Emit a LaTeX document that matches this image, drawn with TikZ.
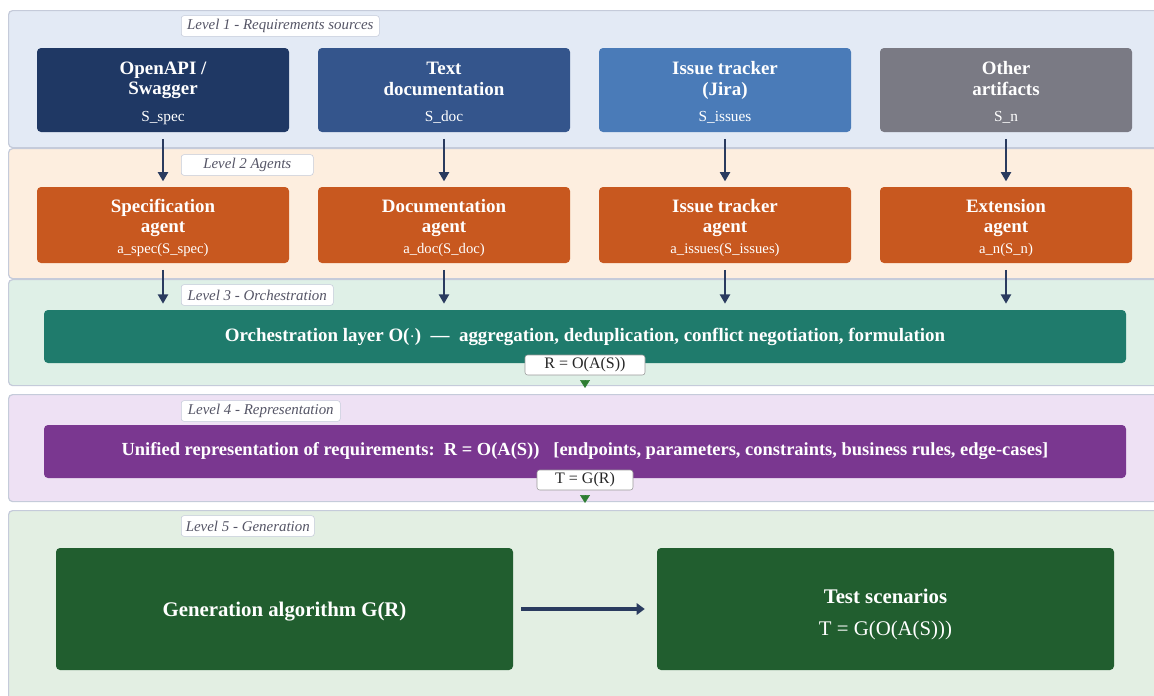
\documentclass[tikz,border=0pt]{standalone}
\usepackage{fontspec}
\setmainfont{Liberation Serif}
\usepackage{xcolor}
\usetikzlibrary{positioning,arrows.meta,calc}

\definecolor{bandline}{HTML}{C5CBDA}
\definecolor{bandA}{HTML}{E3EAF5}
\definecolor{bandB}{HTML}{FDEEDF}
\definecolor{bandC}{HTML}{DFF0E7}
\definecolor{bandD}{HTML}{EEE1F4}
\definecolor{bandE}{HTML}{E3EFE3}
\definecolor{srcA}{HTML}{1F3864}
\definecolor{srcB}{HTML}{34558C}
\definecolor{srcC}{HTML}{4A7BB8}
\definecolor{srcD}{HTML}{7A7A84}
\definecolor{agentc}{HTML}{C8581F}
\definecolor{orchc}{HTML}{1F7B6C}
\definecolor{unic}{HTML}{7A3790}
\definecolor{genc}{HTML}{215E2F}
\definecolor{navy}{HTML}{2A3B5F}
\definecolor{arrgreen}{HTML}{2E7D32}
\definecolor{lvltext}{HTML}{555566}

\begin{document}
\begin{tikzpicture}[x=0.75pt,y=-0.75pt,
    band/.style={draw=bandline, line width=0.9pt, rounded corners=3pt, anchor=north west, minimum width=871.5pt, inner sep=0pt},
    lvl/.style={draw=bandline, fill=white, rounded corners=2pt, anchor=west, text=lvltext, inner sep=0pt, minimum height=15.5pt, font=\fontsize{11.2}{12}\selectfont\itshape},
    srcbox/.style={rounded corners=3pt, minimum width=189pt, minimum height=63pt, text=white, align=center, inner sep=0pt, font=\bfseries\fontsize{14.2}{15.2}\selectfont},
    agbox/.style={srcbox, fill=agentc, minimum height=57pt},
    widebox/.style={rounded corners=3pt, minimum width=811.5pt, minimum height=39.75pt, text=white, inner sep=0pt, font=\bfseries\fontsize{14.2}{15}\selectfont},
    genbox/.style={rounded corners=3pt, fill=genc, minimum width=342.75pt, minimum height=91.5pt, text=white, align=center, inner sep=0pt, font=\bfseries\fontsize{15.6}{17}\selectfont},
    eqlab/.style={draw=gray!80, fill=white, rounded corners=2pt, inner sep=0pt, minimum height=15pt, font=\fontsize{12}{13}\selectfont, text=black!85},
    flow/.style={-{Triangle[length=7pt,width=7.5pt]}, line width=1.9pt, draw=navy, shorten <=5pt, shorten >=4pt},
    down/.style={-{Triangle[length=6pt,width=7.5pt]}, draw=arrgreen, fill=arrgreen, line width=0.4pt}]

    \clip (0,0) rectangle (1154,696);
    \fill[white] (0,0) rectangle (1154,696);

    % level bands
    \node[band, fill=bandA, minimum height=102.75pt] (b1) at (8,10) {};
    \node[band, fill=bandB, minimum height=97.5pt] (b2) at (8,148) {};
    \node[band, fill=bandC, minimum height=79.5pt] (b3) at (8,279) {};
    \node[band, fill=bandD, minimum height=80.25pt] (b4) at (8,394) {};
    \node[band, fill=bandE, minimum height=150pt] (b5) at (8,510) {};

    \node[lvl, minimum width=148.5pt] (lv1) at (181,26) {Level 1 - Requirements sources};
    \node[lvl, minimum width=99pt] (lv2) at (181,165) {Level 2 Agents};
    \node[lvl, minimum width=114pt] (lv3) at (181,295) {Level 3 - Orchestration};
    \node[lvl, minimum width=119.25pt] (lv4) at (181,411) {Level 4 - Representation};
    \node[lvl, minimum width=99.75pt] (lv5) at (181,526) {Level 5 - Generation};

    % level 1: sources
    \node[srcbox, fill=srcA] (spec) at (163,90) {\rule{0pt}{14pt}OpenAPI /\\Swagger\\[5pt]\mdseries\fontsize{11.5}{13}\selectfont S\_spec};
    \node[srcbox, fill=srcB] (doc) at (444,90) {\rule{0pt}{14pt}Text\\documentation\\[5pt]\mdseries\fontsize{11.5}{13}\selectfont S\_doc};
    \node[srcbox, fill=srcC] (issues) at (725,90) {\rule{0pt}{14pt}Issue tracker\\(Jira)\\[5pt]\mdseries\fontsize{11.5}{13}\selectfont S\_issues};
    \node[srcbox, fill=srcD] (other) at (1006,90) {\rule{0pt}{14pt}Other\\artifacts\\[5pt]\mdseries\fontsize{11.5}{13}\selectfont S\_n};

    % level 2: agents
    \node[agbox] (aspec) at (163,225) {\rule{0pt}{14pt}Specification\\agent\\\mdseries\fontsize{11}{13.5}\selectfont a\_spec(S\_spec)};
    \node[agbox] (adoc) at (444,225) {\rule{0pt}{14pt}Documentation\\agent\\\mdseries\fontsize{11}{13.5}\selectfont a\_doc(S\_doc)};
    \node[agbox] (aissues) at (725,225) {\rule{0pt}{14pt}Issue tracker\\agent\\\mdseries\fontsize{11}{13.5}\selectfont a\_issues(S\_issues)};
    \node[agbox] (aother) at (1006,225) {\rule{0pt}{14pt}Extension\\agent\\\mdseries\fontsize{11}{13.5}\selectfont a\_n(S\_n)};

    % level 3 and 4
    \node[widebox, fill=orchc] (orch) at (585,336.5) {Orchestration layer O($\cdot$)\ \ —\ \ aggregation, deduplication, conflict negotiation, formulation};
    \node[widebox, fill=unic, font=\bfseries\fontsize{13.85}{15}\selectfont] (uni) at (585,451.5) {Unified representation of requirements:\ \ R = O(A(S))\ \ \ [endpoints, parameters, constraints, business rules, edge-cases]};

    % level 5
    \node[genbox] (gen) at (284.5,609) {\rule{0pt}{15pt}Generation algorithm G(R)};
    \node[genbox] (tests) at (885.5,609) {\rule{0pt}{19pt}Test scenarios\\[7pt]\mdseries T = G(O(A(S)))};

    % connectors
    \draw[flow] (spec) -- (aspec);
    \draw[flow] (doc) -- (adoc);
    \draw[flow] (issues) -- (aissues);
    \draw[flow] (other) -- (aother);
    \draw[flow, shorten >=4.5pt] (aspec.south) -- (aspec.south |- orch.north);
    \draw[flow, shorten >=4.5pt] (adoc.south) -- (adoc.south |- orch.north);
    \draw[flow, shorten >=4.5pt] (aissues.south) -- (aissues.south |- orch.north);
    \draw[flow, shorten >=4.5pt] (aother.south) -- (aother.south |- orch.north);

    \node[eqlab, minimum width=90pt] (rlab) at (585,365) {R = O(A(S))};
    \node[eqlab, minimum width=72pt] (tlab) at (585,480) {T = G(R)};
    \draw[down, shorten <=3.75pt, shorten >=4.5pt] (rlab.south) -- (rlab.south |- b4.north);
    \draw[down, shorten <=3.75pt, shorten >=5.25pt] (tlab.south) -- (tlab.south |- b5.north);

    \draw[-{Triangle[length=6pt,width=8.5pt]}, line width=2.6pt, draw=navy, shorten <=6pt, shorten >=9pt] (gen) -- (tests);
\end{tikzpicture}
\end{document}
